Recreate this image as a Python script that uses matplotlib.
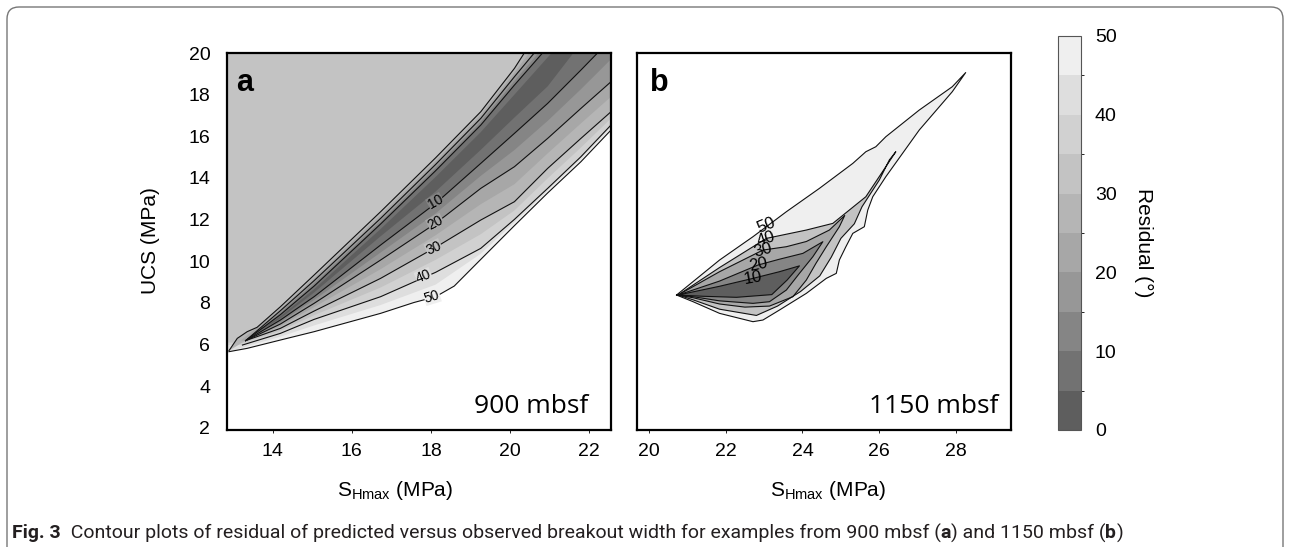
import numpy as np
import matplotlib
matplotlib.use('Agg')
import matplotlib.pyplot as plt
from matplotlib.colors import ListedColormap, BoundaryNorm
from matplotlib.patches import FancyBboxPatch
from matplotlib.transforms import IdentityTransform
from matplotlib import font_manager

# residual bands (deg) and their grey shades
levels = [0, 5, 10, 15, 20, 25, 30, 35, 40, 45, 50]
band_greys = ['#5e5e5e', '#727272', '#858585', '#979797', '#a7a7a7',
              '#b5b5b5', '#c3c3c3', '#d1d1d1', '#dedede', '#efefef']

# ---- panel a (900 mbsf): contour outlines, (S_Hmax, UCS)
# upper side of the valley, apex -> top edge
a_up30 = [(12.90, 5.71), (13.11, 6.30), (13.36, 6.62), (13.61, 6.83), (14.20, 7.82),
          (15.05, 9.34), (16.73, 12.38), (18.12, 14.97), (19.26, 17.18), (20.11, 19.26), (20.36, 20.0)]
a_up25 = [(13.20, 6.20), (14.20, 7.72), (15.05, 9.20), (16.73, 12.22), (18.12, 14.81),
          (19.26, 17.02), (20.11, 19.06), (20.48, 20.0)]
a_up20 = [(13.32, 6.19), (14.20, 7.63), (15.05, 9.07), (16.73, 12.06), (18.12, 14.65),
          (19.26, 16.86), (20.11, 18.86), (20.61, 20.0)]
a_up15 = [(13.32, 6.19), (14.20, 7.54), (15.05, 8.94), (16.73, 11.92), (18.12, 14.50),
          (19.26, 16.70), (20.11, 18.66), (20.72, 20.0)]
a_up10 = [(13.32, 6.19), (14.20, 7.44), (15.05, 8.81), (16.73, 11.79), (18.12, 14.35),
          (19.26, 16.54), (20.11, 18.46), (20.82, 20.0)]
a_up5 = [(13.50, 6.45), (14.20, 7.36), (15.05, 8.66), (16.73, 11.55), (18.12, 14.05),
         (19.26, 16.20), (20.11, 18.00), (21.05, 20.0)]
# lower side of the valley, apex -> top or right edge
a_lo5 = [(13.50, 6.45), (14.20, 7.26), (15.05, 8.50), (16.73, 11.20), (18.12, 13.35),
         (19.26, 15.35), (20.11, 16.90), (20.95, 18.40), (21.60, 20.0)]
a_lo10 = [(13.32, 6.19), (14.20, 7.18), (15.05, 8.30), (16.73, 10.78), (18.12, 12.78),
          (19.26, 14.70), (20.11, 16.14), (20.95, 17.58), (21.79, 19.18), (22.21, 20.0)]
a_lo15 = [(13.32, 6.19), (14.20, 7.08), (15.05, 8.14), (16.73, 10.42), (18.12, 12.30),
          (19.26, 14.10), (20.11, 15.34), (20.95, 16.74), (21.79, 18.26), (22.55, 19.70)]
a_lo20 = [(13.32, 6.19), (14.20, 6.99), (15.05, 7.98), (16.73, 10.06), (18.12, 11.82),
          (19.26, 13.50), (20.11, 14.54), (20.95, 15.90), (21.79, 17.34), (22.55, 18.62)]
a_lo25 = [(13.32, 6.19), (14.20, 6.88), (15.05, 7.80), (16.73, 9.62), (18.12, 11.25),
          (19.26, 12.74), (20.11, 13.70), (20.95, 15.18), (21.79, 16.62), (22.55, 17.90)]
a_lo30 = [(13.32, 6.19), (14.20, 6.78), (15.05, 7.61), (16.73, 9.18), (18.12, 10.67),
          (19.26, 11.98), (20.11, 12.86), (20.95, 14.46), (21.79, 15.90), (22.55, 17.18)]
a_lo35 = [(13.28, 6.10), (14.20, 6.66), (15.05, 7.41), (16.73, 8.74), (18.12, 10.07),
          (19.26, 11.30), (20.11, 12.44), (20.95, 13.98), (21.79, 15.46), (22.55, 16.86)]
a_lo40 = [(13.24, 5.98), (14.20, 6.54), (15.05, 7.21), (16.73, 8.30), (18.12, 9.47),
          (19.26, 10.62), (20.11, 12.01), (20.95, 13.50), (21.79, 15.02), (22.55, 16.54)]
a_lo45 = [(13.00, 5.72), (13.36, 5.92), (14.20, 6.38), (15.05, 6.92), (16.73, 7.90),
          (18.12, 8.88), (19.26, 10.36), (20.11, 11.86), (20.95, 13.39), (21.79, 14.90), (22.55, 16.42)]
a_lo50 = [(12.90, 5.66), (13.36, 5.82), (14.20, 6.22), (15.05, 6.62), (16.73, 7.50),
          (17.57, 8.02), (18.12, 8.30), (18.59, 8.81), (19.26, 10.09), (20.11, 11.71),
          (20.95, 13.28), (21.79, 14.78), (22.55, 16.30)]

a_labels = ['10', '20', '30', '40', '50']
a_label_xy = [(18.12, 12.84), (18.12, 11.84), (18.07, 10.64), (17.82, 9.26), (18.03, 8.30)]
a_label_rot = [30, 28, 24, 22, 17]

# ---- panel b (1150 mbsf): closed contour outlines
b_c50 = [(20.72, 8.38), (21.84, 10.06), (22.71, 11.18), (23.58, 12.38), (24.44, 13.50),
         (25.31, 14.70), (25.65, 15.26), (25.91, 15.50), (26.17, 15.98), (27.04, 17.26),
         (27.90, 18.38), (28.25, 19.06), (27.90, 18.14), (27.04, 16.30), (26.17, 14.06),
         (25.83, 13.10), (25.70, 12.46), (25.61, 11.66), (25.31, 11.34), (25.13, 10.70),
         (24.96, 10.06), (24.88, 9.42), (24.62, 9.18), (24.10, 8.46), (23.40, 7.66),
         (22.97, 7.18), (22.71, 7.10), (21.84, 7.50), (21.15, 8.06)]
b_c40 = [(20.76, 8.38), (21.84, 9.70), (23.06, 11.10), (24.10, 11.50), (24.79, 11.82),
         (25.65, 13.10), (26.43, 15.26), (26.26, 14.86), (26.00, 13.90), (25.55, 12.62),
         (25.35, 11.80), (25.00, 11.10), (24.75, 10.20), (24.45, 9.30), (23.95, 8.55),
         (23.35, 7.85), (22.80, 7.40), (21.84, 7.70), (21.15, 8.15)]
b_c30 = [(20.76, 8.38), (21.84, 9.50), (22.97, 10.54), (23.58, 10.70), (24.10, 10.95),
         (24.70, 11.50), (25.10, 12.20), (24.96, 11.66), (24.62, 10.70), (24.35, 9.90),
         (24.10, 9.10), (23.75, 8.30), (23.14, 7.85), (22.50, 7.80), (21.84, 7.95), (21.15, 8.25)]
b_c20 = [(20.76, 8.38), (21.84, 9.05), (22.84, 9.82), (23.40, 10.10), (24.01, 10.38),
         (24.53, 10.94), (24.27, 10.22), (23.92, 9.42), (23.58, 8.62), (23.14, 8.06),
         (22.71, 7.98), (21.84, 8.10), (21.15, 8.30)]
b_c10 = [(20.76, 8.38), (21.84, 8.80), (22.71, 9.18), (23.40, 9.50), (23.92, 9.78),
         (23.60, 9.10), (23.20, 8.40), (22.28, 8.27), (21.41, 8.32)]
b_c5 = [(20.80, 8.38), (21.84, 8.55), (22.71, 8.75), (23.15, 8.85), (23.05, 8.45),
        (22.28, 8.32), (21.41, 8.35)]

b_labels = ['50', '40', '30', '20', '10']
b_label_xy = [(23.06, 11.74), (23.06, 11.10), (22.97, 10.54), (22.84, 9.82), (22.71, 9.18)]
b_label_rot = [22, 18, 16, 12, 10]

a_xticks = [14, 16, 18, 20, 22]
b_xticks = [20, 22, 24, 26, 28]
yticks = [2, 4, 6, 8, 10, 12, 14, 16, 18, 20]
cbar_ticks = [0, 10, 20, 30, 40, 50]

W, H = 1290, 547
AX_XL = 12.8
AX_XR = 22.6
TOP = 20.0


def band(level):
    return band_greys[levels.index(level) - 1]


def valley_poly(up, lo, xr):
    pts = list(up)
    if lo[-1][1] < TOP:
        pts += [(xr, TOP), (xr, lo[-1][1])]
    pts += lo[::-1]
    return pts


def open_poly(lo, xl, xr):
    return [(xl, TOP), (xl, lo[0][1])] + list(lo) + [(xr, lo[-1][1]), (xr, TOP)]


def fill(ax, pts, color):
    xs, ys = zip(*pts)
    ax.fill(xs, ys, color=color, lw=0)


def line(ax, pts, closed=False):
    xs, ys = zip(*pts)
    if closed:
        xs = xs + (xs[0],)
        ys = ys + (ys[0],)
    ax.plot(xs, ys, color='#111111', lw=0.8)


names = {f.name for f in font_manager.fontManager.ttflist}
cap_font = 'Liberation Sans Narrow' if 'Liberation Sans Narrow' in names else 'Roboto'

plt.rcParams['font.family'] = 'Liberation Sans'
plt.rcParams['mathtext.fontset'] = 'custom'
plt.rcParams['mathtext.rm'] = 'Liberation Sans'

fig = plt.figure(figsize=(W / 100, H / 100), dpi=100)
ax_a = fig.add_axes([227 / W, 1 - 430 / H, 384 / W, 377 / H])
ax_b = fig.add_axes([637 / W, 1 - 430 / H, 374 / W, 377 / H])
cax = fig.add_axes([1058 / W, 1 - 430 / H, 23 / W, 394 / H])

# panel a fills, outermost first
fill(ax_a, open_poly(a_lo50, AX_XL, AX_XR), band(50))
fill(ax_a, open_poly(a_lo45, AX_XL, AX_XR), band(45))
fill(ax_a, open_poly(a_lo40, AX_XL, AX_XR), band(40))
fill(ax_a, open_poly(a_lo35, AX_XL, AX_XR), band(35))
for lvl, up, lo in [(30, a_up30, a_lo30), (25, a_up25, a_lo25), (20, a_up20, a_lo20),
                    (15, a_up15, a_lo15), (10, a_up10, a_lo10), (5, a_up5, a_lo5)]:
    fill(ax_a, valley_poly(up, lo, AX_XR), band(lvl))
for curve in [a_up30, a_up20, a_up10, a_lo10, a_lo20, a_lo30, a_lo40, a_lo50]:
    line(ax_a, curve)
for txt, (x, y), rot in zip(a_labels, a_label_xy, a_label_rot):
    ax_a.text(x, y, txt, fontsize=10, rotation=rot, ha='center', va='center',
              bbox=dict(boxstyle='square,pad=0.02', fc=band(int(txt) + 5 if txt != '50' else 50), ec='none'))

# panel b fills
for lvl, poly in [(50, b_c50), (40, b_c40), (30, b_c30), (20, b_c20), (10, b_c10), (5, b_c5)]:
    fill(ax_b, poly, band(lvl) if lvl in (50, 5) else band(lvl - 5))
for poly in [b_c50, b_c40, b_c30, b_c20, b_c10]:
    line(ax_b, poly, closed=True)
for txt, (x, y), rot in zip(b_labels, b_label_xy, b_label_rot):
    ax_b.text(x, y, txt, fontsize=12, rotation=rot, ha='center', va='center')

for ax in (ax_a, ax_b):
    ax.set_ylim(1.9, 20.0)
    ax.set_yticks(yticks)
    for s in ax.spines.values():
        s.set_linewidth(1.6)
    ax.tick_params(axis='x', direction='out', length=2, width=0.6, pad=7, labelsize=14)
    ax.tick_params(axis='y', length=0, pad=12, labelsize=14)
ax_a.set_xlim(12.85, 22.55)
ax_a.set_xticks(a_xticks)
ax_b.set_xlim(19.69, 29.43)
ax_b.set_xticks(b_xticks)
ax_b.set_yticklabels([])

ax_a.text(0.025, 0.96, 'a', transform=ax_a.transAxes, fontsize=22, fontweight='bold', va='top')
ax_b.text(0.035, 0.96, 'b', transform=ax_b.transAxes, fontsize=22, fontweight='bold', va='top')
ax_a.text(0.94, 0.03, '900 mbsf', transform=ax_a.transAxes, fontsize=19, ha='right', va='bottom',
          family='Open Sans')
ax_b.text(0.965, 0.03, '1150 mbsf', transform=ax_b.transAxes, fontsize=19, ha='right', va='bottom',
          family='Open Sans')

fig.text(150 / W, 1 - 241 / H, 'UCS (MPa)', rotation=90, fontsize=15, ha='center', va='center')
fig.text(395 / W, 1 - 490 / H, r'S$_{\mathrm{Hmax}}$ (MPa)', fontsize=15, ha='center', va='center')
fig.text(828 / W, 1 - 490 / H, r'S$_{\mathrm{Hmax}}$ (MPa)', fontsize=15, ha='center', va='center')

# colorbar
cmap = ListedColormap(band_greys)
norm = BoundaryNorm(levels, cmap.N)
sm = matplotlib.cm.ScalarMappable(norm=norm, cmap=cmap)
cb = fig.colorbar(sm, cax=cax, ticks=cbar_ticks)
cb.outline.set_linewidth(0.8)
cb.outline.set_edgecolor('#555555')
cax.tick_params(length=0, pad=10, labelsize=14)
fig.text(1144 / W, 1 - 243 / H, 'Residual (°)', rotation=-90, fontsize=15, ha='center', va='center')

# rounded frame
fig.add_artist(FancyBboxPatch((7, -20), 1276, 560, boxstyle='round,pad=0,rounding_size=12',
                              transform=IdentityTransform(), fc='none', ec='#777777', lw=1.0))

# caption, built piece by piece
pieces = [('Fig. 3', 'bold'), ('  Contour plots of residual of predicted versus observed breakout width '
                               'for examples from 900 mbsf (', 'normal'),
          ('a', 'bold'), (') and 1150 mbsf (', 'normal'), ('b', 'bold'), (')', 'normal')]
fig.canvas.draw()
renderer = fig.canvas.get_renderer()
x = 12
for s, wt in pieces:
    t = fig.text(x / W, 1 - 533 / H, s, fontsize=14, fontweight=wt, family=cap_font,
                 va='center', color='#231f20')
    x = t.get_window_extent(renderer).x1

fig.savefig('out.png', dpi=100)
